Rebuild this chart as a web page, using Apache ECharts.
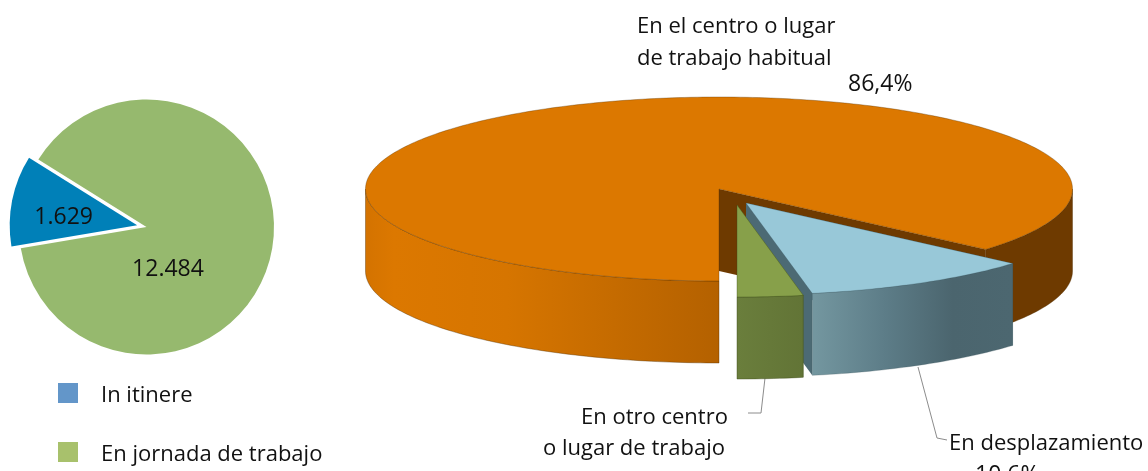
<!DOCTYPE html>
<html>
<head>
<meta charset="utf-8">
<style>
  html, body { margin: 0; padding: 0; background: #fff; }
  #main { width: 1148px; height: 471px; overflow: hidden; }
</style>
</head>
<body>
<div id="main"></div>
<script src="https://cdn.jsdelivr.net/npm/echarts@6/dist/echarts.min.js"></script>
<script>
// left pie
const pieNames = ['In itinere', 'En jornada de trabajo']
const pieValues = [1629, 12484]
const pieLabels = ['1.629', '12.484']

// right pie (percent)
const lugarNames = ['En el centro o lugar\nde trabajo habitual', 'En desplazamiento', 'En otro centro\no lugar de trabajo']
const lugarValues = [86.4, 10.6, 3.0]
const lugarLabels = ['86,4%', '10,6%', '3,0%']

const font = '"Open Sans", "Noto Sans", sans-serif'
const textColor = '#111'

// ellipse used for the tilted pie
const cx = 719, cy = 189, rx = 353.5, ry = 92, depth = 82
// how each slice is drawn, same order as lugarValues
const sliceStyles = [
  {
    dx: 0, dy: 0, top: '#dc7800', side: '#6e3a00', edge: 'rgba(80,45,0,0.55)',
    wallFrom: 366, wallTo: 1073,
    wallStops: [
      { offset: 0, color: '#d47300' }, { offset: 0.04, color: '#dc7800' }, { offset: 0.2, color: '#d67500' },
      { offset: 0.5, color: '#b46100' }, { offset: 0.5, color: '#6e3a00' }, { offset: 1, color: '#6e3a00' }
    ]
  },
  {
    dx: 27, dy: 14, top: '#98c8d8', side: '#4c6a74', edge: 'rgba(60,85,95,0.4)',
    wallFrom: 815, wallTo: 1012,
    wallStops: [
      { offset: 0, color: '#73969f' }, { offset: 0.35, color: '#5d7d88' },
      { offset: 0.7, color: '#4b656e' }, { offset: 1, color: '#4c6770' }
    ]
  },
  {
    dx: 18, dy: 16, top: '#87a04a', side: '#66793a', edge: 'rgba(60,75,25,0.6)',
    wallFrom: 737, wallTo: 804,
    wallStops: [
      { offset: 0, color: '#6a7e3c' }, { offset: 1, color: '#627436' }
    ]
  }
]

const lugarTotal = lugarValues.reduce((a, b) => a + b, 0)

function ellipsePoint(deg, ox, oy) {
  const r = deg * Math.PI / 180
  return [ox + rx * Math.cos(r), oy + ry * Math.sin(r)]
}

// arc sampled from a to b
function arcPoints(a, b, ox, oy) {
  const pts = []
  const n = Math.max(2, Math.ceil(Math.abs(b - a)))
  for (let i = 0; i <= n; i++) {
    pts.push(ellipsePoint(a + (b - a) * i / n, ox, oy))
  }
  return pts
}

// part of the rim facing the viewer, angles run clockwise from east
function frontRanges(a, b) {
  const out = []
  for (let k = -1; k <= 1; k++) {
    const s = Math.max(a, k * 360)
    const e = Math.min(b, k * 360 + 180)
    if (e > s) out.push([s, e])
  }
  return out
}

function renderSlice(params, api) {
  const i = params.dataIndex
  const st = sliceStyles[i]
  let start = 90
  for (let k = 0; k < i; k++) start += lugarValues[k] / lugarTotal * 360
  const end = start + api.value(0) / lugarTotal * 360
  const ox = cx + st.dx, oy = cy + st.dy
  const children = []

  ;[start, end].forEach(function (deg) {
    const p = ellipsePoint(deg, ox, oy)
    children.push({
      type: 'polygon',
      shape: { points: [[ox, oy], p, [p[0], p[1] + depth], [ox, oy + depth]] },
      style: { fill: st.side }
    })
  })

  const wallFill = {
    type: 'linear', x: st.wallFrom, y: 0, x2: st.wallTo, y2: 0, global: true,
    colorStops: st.wallStops
  }
  frontRanges(start, end).forEach(function (r) {
    const upper = arcPoints(r[0], r[1], ox, oy)
    const lower = arcPoints(r[1], r[0], ox, oy + depth)
    children.push({
      type: 'polygon',
      shape: { points: upper.concat(lower) },
      style: { fill: wallFill, stroke: st.edge, lineWidth: 0.7 }
    })
  })

  children.push({
    type: 'polygon',
    shape: { points: [[ox, oy]].concat(arcPoints(start, end, ox, oy)) },
    style: { fill: st.top, stroke: st.edge, lineWidth: 0.6 }
  })
  return { type: 'group', children: children }
}

function textEl(text, left, top, size) {
  return {
    type: 'text', left: left, top: top, silent: true,
    style: { text: text, font: (size || 22) + 'px ' + font, fill: textColor, lineHeight: 32 }
  }
}

function leader(points) {
  return {
    type: 'polyline', silent: true,
    shape: { points: points },
    style: { stroke: '#8c8c8c', lineWidth: 1, fill: 'none' }
  }
}

const option = {
  animation: false,
  backgroundColor: '#fff',
  legend: {
    orient: 'vertical',
    left: 58,
    top: 383,
    height: 120,
    padding: 0,
    // square sits at the top of a taller box so the text falls a bit lower
    icon: 'path://M0,0H20V20H0ZM0,26H20V26H0Z',
    itemWidth: 20,
    itemHeight: 26,
    itemGap: 33,
    selectedMode: false,
    textStyle: { fontFamily: font, fontSize: 22, color: textColor, padding: [0, 0, 0, 18] },
    data: [
      { name: pieNames[0], itemStyle: { color: '#6396c9' } },
      { name: pieNames[1], itemStyle: { color: '#a8c16c' } }
    ]
  },
  series: [
    {
      type: 'pie',
      center: [146.5, 227],
      radius: 127.5,
      startAngle: 189.6,
      clockwise: true,
      selectedMode: 'single',
      selectedOffset: 9.5,
      silent: true,
      avoidLabelOverlap: false,
      labelLine: { show: false },
      emphasis: { disabled: true },
      label: { position: 'inside', fontFamily: font, fontSize: 23, color: textColor },
      // the selected slice ignores label.offset, so nudge it here
      labelLayout: function (params) {
        return params.dataIndex === 0 ? { dx: -8, dy: 5 } : {}
      },
      data: [
        {
          name: pieNames[0], value: pieValues[0], selected: true,
          itemStyle: { color: '#0080b8' },
          label: { formatter: pieLabels[0] }
        },
        {
          name: pieNames[1], value: pieValues[1],
          itemStyle: { color: '#96b96e' },
          label: { formatter: pieLabels[1], offset: [-44, 30] }
        }
      ]
    },
    {
      type: 'custom',
      coordinateSystem: 'none',
      silent: true,
      renderItem: renderSlice,
      data: lugarValues.map(function (v) { return [v] })
    }
  ],
  graphic: [
    leader([[765, 378], [761, 413], [748, 413]]),
    leader([[918, 367], [937, 438], [947, 440]]),
    textEl(lugarNames[0], 637, 11),
    textEl(lugarLabels[0], 848, 68, 23),
    textEl(lugarNames[2].split('\n')[0], 581, 402),
    textEl(lugarNames[2].split('\n')[1], 543, 433),
    textEl(lugarLabels[2], 672, 465, 23),
    textEl(lugarNames[1], 949, 428),
    textEl(lugarLabels[1], 975, 459, 23)
  ]
}

const chart = echarts.init(document.getElementById('main'), null, { renderer: 'canvas' })
chart.setOption(option)
</script>
</body>
</html>
